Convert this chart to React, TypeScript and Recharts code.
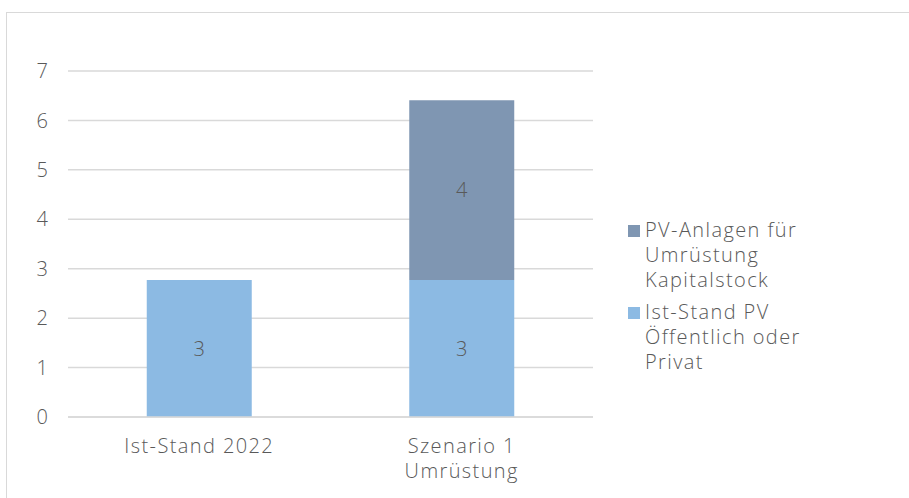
import { BarChart, Bar, XAxis, YAxis, CartesianGrid, LabelList } from 'recharts';

const categories = ['Ist-Stand 2022', 'Szenario 1\nUmrüstung'];
const istStand = [2.77, 2.77];
const kapitalstock = [0, 3.64];
const yTicks = [0, 1, 2, 3, 4, 5, 6, 7];

const legendItems = [
  { lines: ['PV-Anlagen für', 'Umrüstung', 'Kapitalstock'], color: '#7F96B2' },
  { lines: ['Ist-Stand PV', 'Öffentlich oder', 'Privat'], color: '#8CBAE3' },
];

const data = categories.map((name, i) => ({
  name,
  ist: istStand[i],
  kap: kapitalstock[i] || null,
}));

const FONT = '"Open Sans", sans-serif';
const TEXT = '#595959';
const SPACING = 1.4;

function CategoryTick({ x, y, payload }: any) {
  const lines = String(payload.value).split('\n');
  return (
    <text
      x={x}
      y={y}
      textAnchor="middle"
      fill={TEXT}
      fontSize={20}
      fontFamily={FONT}
      fontWeight={300}
      letterSpacing={SPACING}
    >
      {lines.map((l, i) => (
        <tspan key={i} x={x} dy={i === 0 ? '0.8em' : 25}>
          {l}
        </tspan>
      ))}
    </text>
  );
}

const labelStyle = { fill: TEXT, fontSize: 20, fontFamily: FONT, fontWeight: 300 };

export default function App() {
  return (
    <div style={{ position: 'absolute', left: 0, top: 0, width: 909, height: 498, overflow: 'hidden', background: '#fff' }}>
      <div
        style={{
          position: 'absolute',
          left: 6,
          top: 12,
          width: 1000,
          height: 600,
          border: '1px solid #D9D9D9',
        }}
      />
      <div style={{ position: 'absolute', left: 0, top: 0 }}>
        <BarChart width={909} height={498} data={data} margin={{ top: 71, right: 316, bottom: 0, left: 0 }} barCategoryGap="30%">
          <CartesianGrid vertical={false} stroke="#D9D9D9" strokeWidth={1.5} />
          <XAxis
            dataKey="name"
            height={81}
            axisLine={{ stroke: '#D9D9D9', strokeWidth: 1.5 }}
            tickLine={false}
            tickMargin={14}
            tick={<CategoryTick />}
            interval={0}
          />
          <YAxis
            width={68}
            domain={[0, 7]}
            ticks={yTicks}
            axisLine={false}
            tickLine={false}
            tickMargin={14}
            tick={labelStyle}
          />
          <Bar dataKey="ist" stackId="a" fill="#8CBAE3" isAnimationActive={false}>
            <LabelList dataKey="ist" position="center" formatter={(v: any) => Math.round(Number(v))} style={labelStyle} />
          </Bar>
          <Bar dataKey="kap" stackId="a" fill="#7F96B2" isAnimationActive={false}>
            <LabelList
              dataKey="kap"
              position="center"
              formatter={(v: any) => (v ? Math.round(Number(v)) : '')}
              style={labelStyle}
            />
          </Bar>
        </BarChart>
      </div>
      <div
        style={{
          position: 'absolute',
          left: 628,
          top: 217,
          fontFamily: FONT,
          fontWeight: 300,
          fontSize: 20,
          letterSpacing: SPACING,
          color: TEXT,
        }}
      >
        {legendItems.map((it, i) => (
          <div key={i} style={{ display: 'flex', alignItems: 'flex-start', marginBottom: 7 }}>
            <div style={{ width: 12, height: 12, background: it.color, marginTop: 8, marginRight: 5, flexShrink: 0 }} />
            <div style={{ lineHeight: '25px', whiteSpace: 'nowrap' }}>
              {it.lines.map((l, j) => (
                <div key={j}>{l}</div>
              ))}
            </div>
          </div>
        ))}
      </div>
    </div>
  );
}
